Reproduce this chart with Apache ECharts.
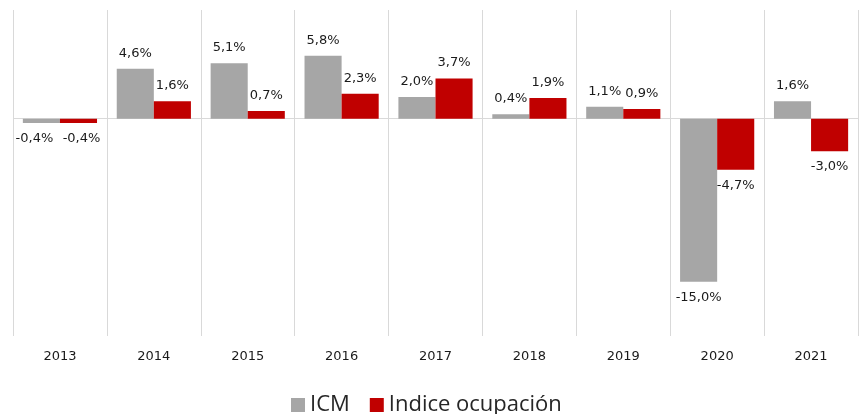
<!DOCTYPE html>
<html><head><meta charset="utf-8">
<script src="https://cdn.jsdelivr.net/npm/echarts@6/dist/echarts.min.js"></script>
<style>html,body{margin:0;padding:0;background:#fff}#c{width:864px;height:414px}</style>
</head><body><div id="c"></div>
<script>
var categories = ['2013','2014','2015','2016','2017','2018','2019','2020','2021'];
var icm = [-0.4, 4.6, 5.1, 5.8, 2.0, 0.4, 1.1, -15.0, 1.6];
var ocupacion = [-0.4, 1.6, 0.7, 2.3, 3.7, 1.9, 0.9, -4.7, -3.0];
var seriesNames = ['ICM', 'Indice ocupación'];

function fmt(p){ return p.value.toFixed(1).replace('.', ',') + '%'; }
function mk(vals, firstShift){
  return vals.map(function(v, i){
    var lab = {position: v < 0 ? 'bottom' : 'top'};
    if (i === 0) lab.offset = [firstShift, 0];
    return {value: v, label: lab};
  });
}
var labelStyle = {show: true, formatter: fmt, color: '#1a1a1a', fontSize: 13, fontFamily: 'DejaVu Sans', distance: 9};
var chart = echarts.init(document.getElementById('c'));
chart.setOption({
  animation: false,
  grid: {left: 13, right: 6, top: 10, bottom: 78},
  legend: {
    top: 392, left: 291, itemWidth: 14, itemHeight: 14, itemGap: 20, padding: 0,
    icon: 'rect',
    textStyle: {fontSize: 22, lineHeight: 26, color: '#262626', fontFamily: 'Open Sans'},
    data: seriesNames
  },
  xAxis: {
    type: 'category', data: categories,
    axisLine: {show: false}, axisTick: {show: false},
    axisLabel: {color: '#1a1a1a', fontSize: 13, fontFamily: 'DejaVu Sans', margin: 14},
    splitLine: {show: true, lineStyle: {color: '#d9d9d9', width: 1}}
  },
  yAxis: {
    type: 'value', min: -20, max: 10, interval: 10, show: true,
    axisLine: {show: false}, axisTick: {show: false}, axisLabel: {show: false},
    splitLine: {show: true, lineStyle: {color: ['transparent','transparent','#d9d9d9','transparent'], width: 1}}
  },
  series: [
    {name: seriesNames[0], type: 'bar', data: mk(icm, -7), barGap: '0%', barCategoryGap: '21%',
     itemStyle: {color: '#a6a6a6'}, label: labelStyle},
    {name: seriesNames[1], type: 'bar', data: mk(ocupacion, 3), barGap: '0%', barCategoryGap: '21%',
     itemStyle: {color: '#c00000'}, label: labelStyle}
  ]
});
</script></body></html>
